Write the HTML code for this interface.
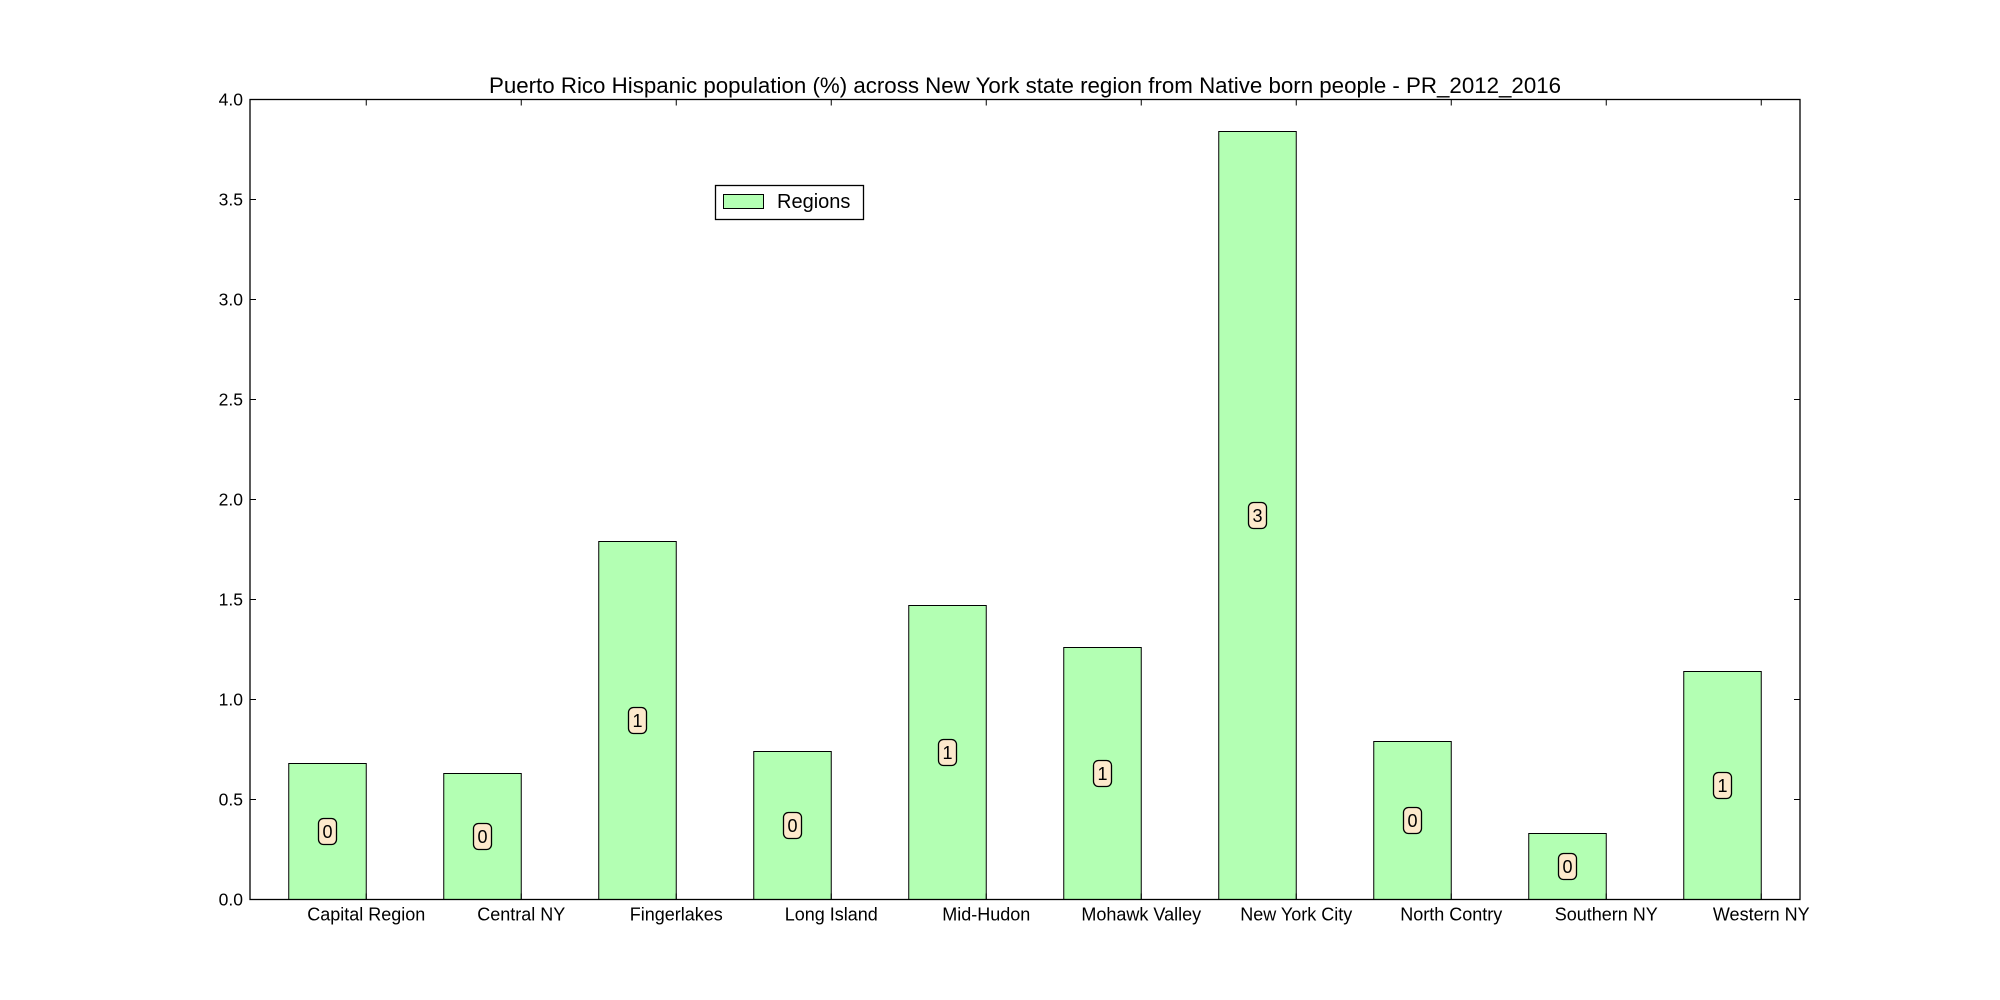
<!DOCTYPE html>
<html><head><meta charset="utf-8"><style>body{margin:0;background:#fff}svg{display:block;font-family:"Liberation Sans","DejaVu Sans",sans-serif}</style></head>
<body>
<svg id="chart" width="2000" height="1000" xmlns="http://www.w3.org/2000/svg"></svg>
<script>
const categories = ["Capital Region","Central NY","Fingerlakes","Long Island","Mid-Hudon","Mohawk Valley","New York City","North Contry","Southern NY","Western NY"];
const values = [0.68,0.63,1.79,0.74,1.47,1.26,3.84,0.79,0.33,1.14];
const yTicks = ["0.0","0.5","1.0","1.5","2.0","2.5","3.0","3.5","4.0"];
const L=250,R=1800,T=99.5,B=899.5;
const xmin=-0.25,xmax=9.75,ymin=0,ymax=4;
const X=v=>L+(v-xmin)/(xmax-xmin)*(R-L);
const Y=v=>B-(v-ymin)/(ymax-ymin)*(B-T);
const svg=document.getElementById('chart');
const NS='http://www.w3.org/2000/svg';
function mk(t,a,txt){const e=document.createElementNS(NS,t);for(const k in a)e.setAttribute(k,a[k]);if(txt!==undefined)e.textContent=txt;svg.appendChild(e);return e;}
let e;
e=mk('text',{x:(L+R)/2,y:93,'text-anchor':'middle','font-size':22.3},'Puerto Rico Hispanic population (%) across New York state region from Native born people - PR_2012_2016');


values.forEach((v,i)=>{
  e=mk('rect',{x:X(i),y:Y(v),width:X(i+0.5)-X(i),height:Y(0)-Y(v),fill:'#b3ffb3',stroke:'#000','stroke-width':1});
  
  
  const cx=X(i+0.25),cy=Y(v/2);
  e=mk('rect',{x:cx-9,y:cy-13,width:18,height:26,rx:5,fill:'#fde9cc',stroke:'#000','stroke-width':1.3});
  
  
  e=mk('text',{x:cx,y:cy+6.5,'text-anchor':'middle','font-size':18},String(Math.floor(v)));
  
  
  const tx=X(i+0.5);
  mk('line',{x1:tx,y1:B,x2:tx,y2:B-6,stroke:'#000'});
  mk('line',{x1:tx,y1:T,x2:tx,y2:T+6,stroke:'#000'});
  e=mk('text',{x:tx,y:B+21,'text-anchor':'middle','font-size':18},categories[i]);
  
  
});
yTicks.forEach(t=>{
  const y=Y(parseFloat(t));
  mk('line',{x1:L,y1:y,x2:L+6,y2:y,stroke:'#000'});
  mk('line',{x1:R,y1:y,x2:R-6,y2:y,stroke:'#000'});
  e=mk('text',{x:L-7,y:y+6,'text-anchor':'end','font-size':17.5},t);
  
  
});
e=mk('rect',{x:L,y:T,width:R-L,height:B-T,fill:'none',stroke:'#000','stroke-width':1.3});


e=mk('rect',{x:715.5,y:185.5,width:148,height:34,fill:'#fff',stroke:'#000','stroke-width':1.3});


e=mk('rect',{x:723.5,y:194.5,width:40,height:14,fill:'#b3ffb3',stroke:'#000','stroke-width':1});


e=mk('text',{x:777,y:208,'font-size':20},'Regions');


</script>
</body></html>
